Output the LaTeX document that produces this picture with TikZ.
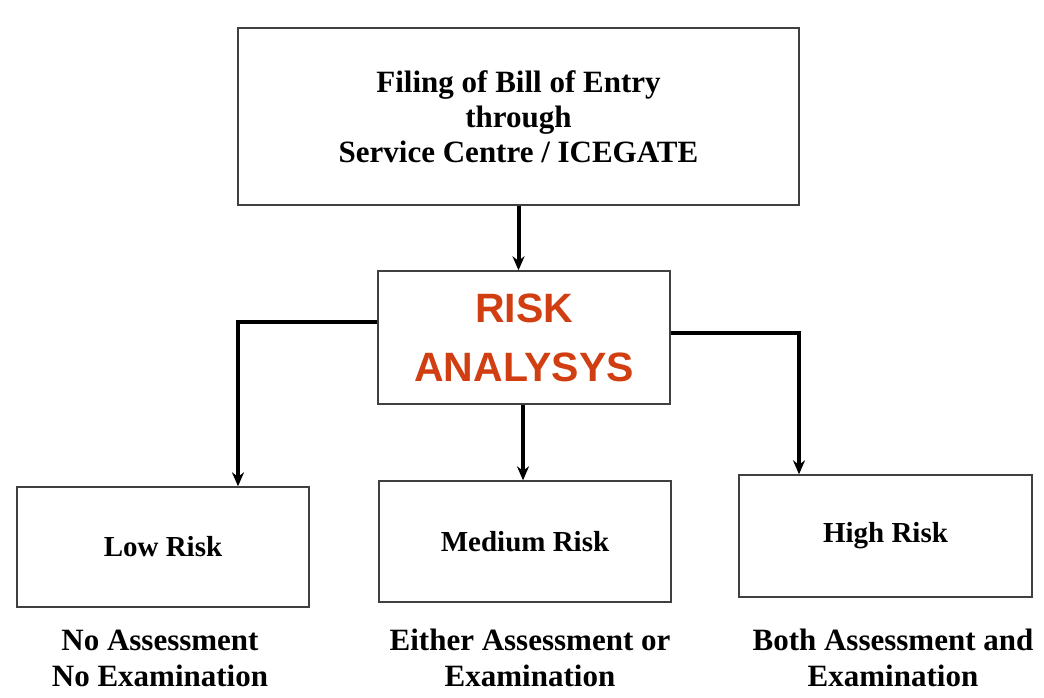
\documentclass[tikz,border=0pt]{standalone}
\usepackage{fontspec}
\setmainfont{Liberation Serif}
\newfontfamily\riskfont{Liberation Sans}
\usetikzlibrary{arrows.meta}
\definecolor{riskred}{RGB}{208,62,18}
\tikzset{
  box/.style={draw=black!75,line width=0.7pt,inner sep=0pt,align=center,font=\bfseries\fontsize{14.5}{17.5}\selectfont},
  note/.style={align=center,inner sep=0pt,font=\bfseries\fontsize{15.5}{18}\selectfont},
  flow/.style={line width=2pt,-{Stealth[length=7pt,width=6pt]}}
}
\begin{document}
\begin{tikzpicture}[x=0.5pt,y=-0.5pt]
\useasboundingbox (0,0) rectangle (1044,697);
    \node[box,minimum width=280.5pt,minimum height=88.5pt,font=\bfseries\fontsize{15.5}{17.5}\selectfont] (filing) at (518.5,116.5) {Filing of Bill of Entry\\through\\Service Centre / ICEGATE};
    \node[box,minimum width=146pt,minimum height=66.5pt,text=riskred,font=\riskfont\bfseries\fontsize{20.5}{29.5}\selectfont] (risk) at (524,337.5) {RISK\\ANALYSYS};
    \node[box,minimum width=146pt,minimum height=60pt] (low) at (163,547) {Low Risk};
    \node[box,minimum width=146pt,minimum height=60.5pt] (medium) at (525,541.5) {Medium Risk};
    \node[box,minimum width=146.5pt,minimum height=61pt] (high) at (885.5,536) {High Risk};
    \node[note] (lownote) at (160,658) {No Assessment\\No Examination};
    \node[note] (mediumnote) at (530,658) {Either Assessment or\\Examination};
    \node[note] (highnote) at (893,658) {Both Assessment and\\Examination};
    \draw [flow] (filing.south) -- (filing.south |- risk.north);
    \draw [flow] ([yshift=7.75pt]risk.west) -| ([xshift=37.5pt]low.north);
    \draw [flow] ([xshift=-0.5pt]risk.south) -- ([xshift=-0.5pt]risk.south |- medium.north);
    \draw [flow] ([yshift=2.25pt]risk.east) -| ([xshift=-43.25pt]high.north);
\end{tikzpicture}
\end{document}
